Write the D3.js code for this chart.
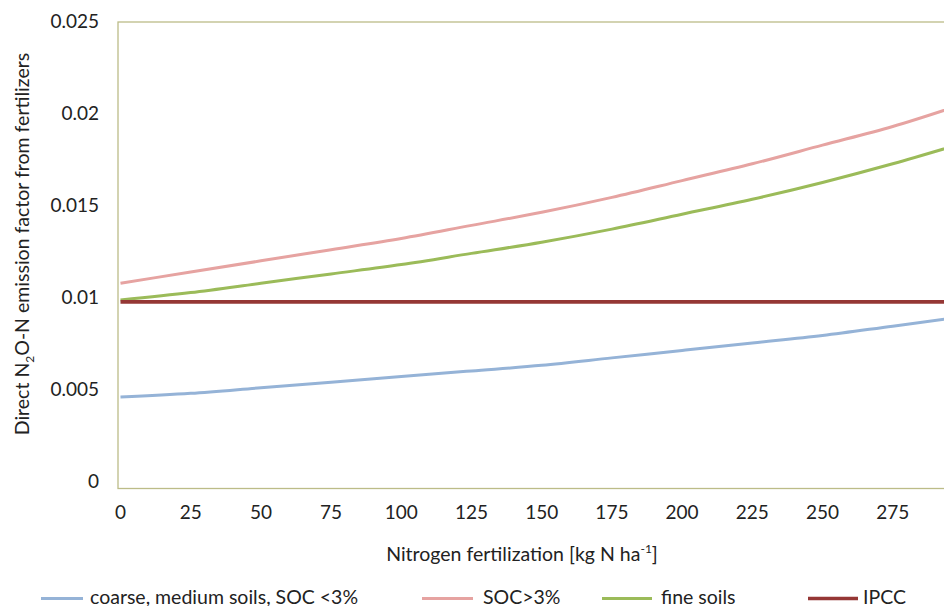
<!DOCTYPE html>
<html>
<head>
<meta charset="utf-8">
<script src="https://cdn.jsdelivr.net/npm/d3@7"></script>
<style>
  html, body { margin: 0; padding: 0; background: #fff; }
  svg { display: block; font-family: Lato, "Open Sans", sans-serif; }
</style>
</head>
<body>
<svg id="chart" width="944" height="606"></svg>
<script>
// Data (EF vs N fertilization, kg N/ha)
const nRates = [0, 25, 50, 75, 100, 125, 150, 175, 200, 225, 250, 275, 300];
const coarseSoils = [0.0049, 0.0051, 0.0054, 0.0057, 0.0060, 0.0063, 0.0066, 0.0070, 0.0074, 0.0078, 0.0082, 0.0087, 0.0092];
const socHigh    = [0.0110, 0.0116, 0.0122, 0.0128, 0.0134, 0.0141, 0.0148, 0.0156, 0.0165, 0.0174, 0.0184, 0.0194, 0.0206];
const fineSoils  = [0.0101, 0.0105, 0.0110, 0.0115, 0.0120, 0.0126, 0.0132, 0.0139, 0.0147, 0.0155, 0.0164, 0.0174, 0.0185];
const ipcc       = [0.0100, 0.0100, 0.0100, 0.0100, 0.0100, 0.0100, 0.0100, 0.0100, 0.0100, 0.0100, 0.0100, 0.0100, 0.0100];
const xTicks = [0, 25, 50, 75, 100, 125, 150, 175, 200, 225, 250, 275];
const yTicks = [0, 0.005, 0.01, 0.015, 0.02, 0.025];
const yTickLabels = ["0", "0.005", "0.01", "0.015", "0.02", "0.025"];
const seriesNames = ["coarse, medium soils, SOC <3%", "SOC>3%", "fine soils", "IPCC"];
const seriesValues = [coarseSoils, socHigh, fineSoils, ipcc];
const seriesColors = ["#95B3D7", "#E6A3A1", "#9BBB59", "#953735"];

const svg = d3.select("#chart");
const mLeft = 118, mTop = 22, mBottom = 488.5, mRight = 963;
const x = d3.scaleLinear().domain([0, 300]).range([120.5, 120.5 + 300 * 2.808]);
const y = d3.scaleLinear().domain([0, 0.025]).range([mBottom, mTop]);
const yLab = d3.scaleLinear().domain([0, 0.025]).range([481.5, 21.5]);
const axisColor = "#BCBC88";

// clip
svg.append("defs").append("clipPath").attr("id", "plotclip")
  .append("rect").attr("x", mLeft).attr("y", mTop - 2).attr("width", mRight - mLeft).attr("height", mBottom - mTop + 4);

// frame (top, left, bottom; right edge is beyond the picture)
svg.append("rect").attr("x", mLeft).attr("y", mTop).attr("width", 900).attr("height", mBottom - mTop)
  .attr("fill", "none").attr("stroke", axisColor).attr("stroke-width", 1.3);

// y tick labels
svg.append("g").selectAll("text").data(yTicks).join("text")
  .attr("x", 99).attr("y", d => yLab(d)).attr("dy", "0.35em")
  .attr("text-anchor", "end").attr("font-size", 19).attr("fill", "#222")
  .text((d, i) => yTickLabels[i]);

// x tick labels
svg.append("g").selectAll("text").data(xTicks).join("text")
  .attr("x", d => x(d)).attr("y", 519)
  .attr("text-anchor", "middle").attr("font-size", 19).attr("fill", "#222")
  .text(d => d);

// lines
const line = d3.line().x((d, i) => x(nRates[i])).y(d => y(d)).curve(d3.curveMonotoneX);
const g = svg.append("g").attr("clip-path", "url(#plotclip)");
seriesValues.forEach((vals, k) => {
  g.append("path").datum(vals)
    .attr("d", line)
    .attr("fill", "none")
    .attr("stroke", seriesColors[k])
    .attr("stroke-width", k === 3 ? 3.6 : 3);
});

// x axis title
const xt = svg.append("text").attr("x", 522).attr("y", 561).attr("text-anchor", "middle")
  .attr("font-size", 19.5).attr("fill", "#222");
xt.append("tspan").text("Nitrogen fertilization [kg N ha");
xt.append("tspan").attr("font-size", 12).attr("dy", -8).text("-1");
xt.append("tspan").attr("dy", 8).text("]");

// y axis title
const yt = svg.append("text").attr("transform", "translate(29,244) rotate(-90)")
  .attr("text-anchor", "middle").attr("font-size", 19.5).attr("fill", "#222");
yt.append("tspan").text("Direct N");
yt.append("tspan").attr("font-size", 12).attr("dy", 5).text("2");
yt.append("tspan").attr("dy", -5).text("O-N emission factor from fertilizers");

// legend
const legendX1 = [41, 422, 602, 808];
const legendX2 = [83, 473, 652, 858];
const legendTextX = [90, 483, 661, 863];
const lg = svg.append("g");
seriesNames.forEach((name, k) => {
  lg.append("line").attr("x1", legendX1[k]).attr("x2", legendX2[k])
    .attr("y1", 598.5).attr("y2", 598.5)
    .attr("stroke", seriesColors[k]).attr("stroke-width", k === 3 ? 3.6 : 3);
  lg.append("text").attr("x", legendTextX[k]).attr("y", 603.5)
    .attr("font-size", 19.5).attr("fill", "#222").text(name);
});
</script>
</body>
</html>
